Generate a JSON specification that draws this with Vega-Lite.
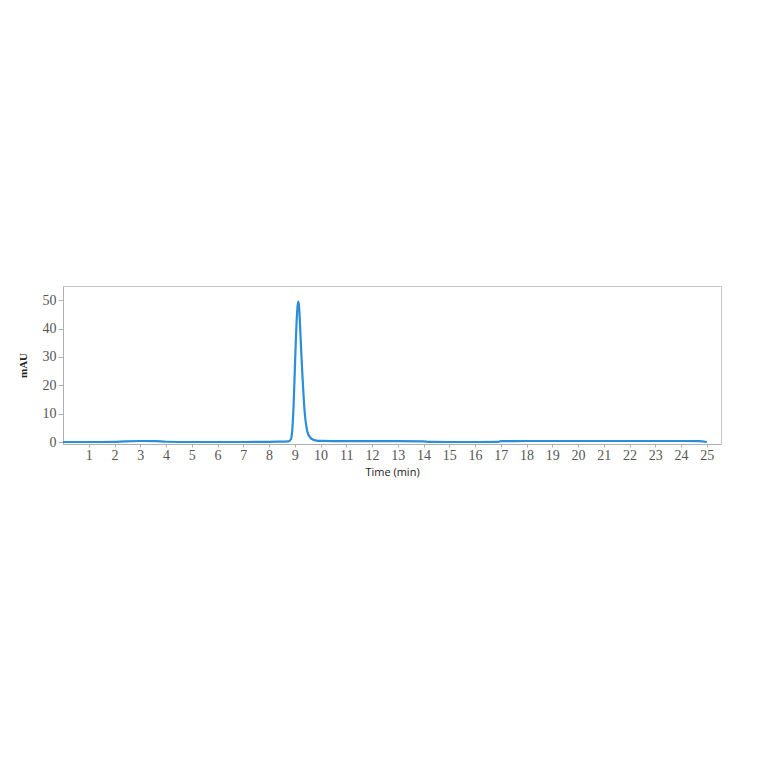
{
  "$schema": "https://vega.github.io/schema/vega-lite/v6.json",
  "width": 658,
  "height": 158,
  "autosize": "none",
  "padding": {"left": 63, "top": 286, "right": 43, "bottom": 320},
  "background": "white",
  "config": {
    "view": {"stroke": "#c8c8c8", "strokeWidth": 1},
    "axis": {"grid": false, "domainColor": "#b0b0b0", "tickColor": "#b0b0b0", "labelColor": "#555555", "titleColor": "#222222"}
  },
  "data": {
    "values": [
      {"t": 0.0, "mAU": 0.0},
      {"t": 1.0, "mAU": 0.0},
      {"t": 2.0, "mAU": 0.05},
      {"t": 2.4, "mAU": 0.25},
      {"t": 3.0, "mAU": 0.35},
      {"t": 3.6, "mAU": 0.3},
      {"t": 4.0, "mAU": 0.1},
      {"t": 5.0, "mAU": 0.0},
      {"t": 6.0, "mAU": 0.0},
      {"t": 7.0, "mAU": 0.0},
      {"t": 8.0, "mAU": 0.05},
      {"t": 8.5, "mAU": 0.15},
      {"t": 8.75, "mAU": 0.2},
      {"t": 8.85, "mAU": 1.0},
      {"t": 8.9, "mAU": 4.0},
      {"t": 8.95, "mAU": 12.0},
      {"t": 9.0, "mAU": 25.0},
      {"t": 9.05, "mAU": 38.0},
      {"t": 9.1, "mAU": 47.0},
      {"t": 9.13, "mAU": 49.5},
      {"t": 9.16, "mAU": 48.5},
      {"t": 9.2, "mAU": 42.0},
      {"t": 9.25, "mAU": 32.0},
      {"t": 9.3, "mAU": 23.0},
      {"t": 9.35, "mAU": 15.0},
      {"t": 9.4, "mAU": 9.0},
      {"t": 9.45, "mAU": 5.5},
      {"t": 9.5, "mAU": 3.3},
      {"t": 9.6, "mAU": 1.6},
      {"t": 9.7, "mAU": 0.9},
      {"t": 9.8, "mAU": 0.6},
      {"t": 10.0, "mAU": 0.4},
      {"t": 11.0, "mAU": 0.3},
      {"t": 12.0, "mAU": 0.3},
      {"t": 13.0, "mAU": 0.3},
      {"t": 14.0, "mAU": 0.25},
      {"t": 14.2, "mAU": 0.05},
      {"t": 15.0, "mAU": 0.0},
      {"t": 16.0, "mAU": 0.0},
      {"t": 16.9, "mAU": 0.05},
      {"t": 17.0, "mAU": 0.3},
      {"t": 18.0, "mAU": 0.35},
      {"t": 19.0, "mAU": 0.35},
      {"t": 20.0, "mAU": 0.35},
      {"t": 21.0, "mAU": 0.35},
      {"t": 22.0, "mAU": 0.35},
      {"t": 23.0, "mAU": 0.35},
      {"t": 24.0, "mAU": 0.35},
      {"t": 24.7, "mAU": 0.3},
      {"t": 25.0, "mAU": 0.0}
    ]
  },
  "mark": {"type": "line", "color": "#2b8ed8", "strokeWidth": 2.2, "interpolate": "monotone"},
  "encoding": {
    "x": {
      "field": "t",
      "type": "quantitative",
      "title": "Time (min)",
      "scale": {"domain": [0, 25.55], "nice": false, "zero": false},
      "axis": {
        "values": [1,2,3,4,5,6,7,8,9,10,11,12,13,14,15,16,17,18,19,20,21,22,23,24,25],
        "labelFont": "Liberation Serif",
        "labelFontSize": 14,
        "labelFlush": false,
        "tickSize": 3,
        "labelPadding": 1,
        "titleFont": "Open Sans",
        "titleFontSize": 11,
        "titleFontWeight": "normal",
        "titlePadding": 4
      }
    },
    "y": {
      "field": "mAU",
      "type": "quantitative",
      "title": "mAU",
      "scale": {"domain": [-0.7, 55], "nice": false, "zero": false},
      "axis": {
        "values": [0, 10, 20, 30, 40, 50],
        "labelFont": "Liberation Serif",
        "labelFontSize": 14,
        "tickSize": 5,
        "labelPadding": 2,
        "titleFont": "Liberation Serif",
        "titleFontSize": 11,
        "titleFontWeight": "bold",
        "titlePadding": 14
      }
    }
  }
}
